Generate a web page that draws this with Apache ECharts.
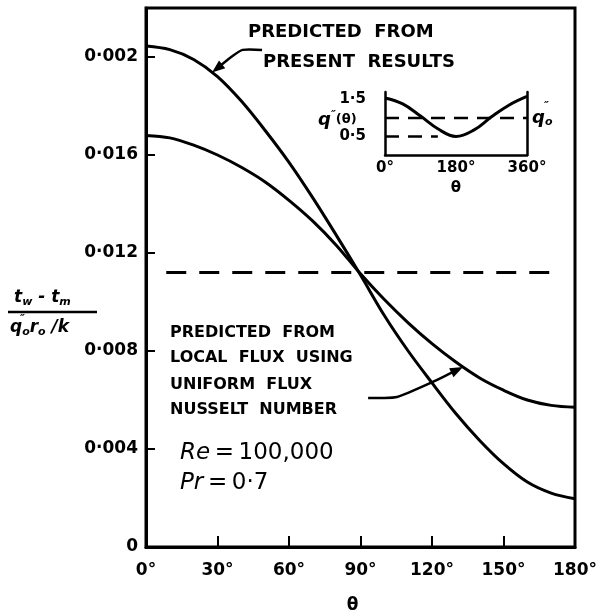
<!DOCTYPE html>
<html>
<head>
<meta charset="utf-8">
<script src="https://cdn.jsdelivr.net/npm/echarts@6/dist/echarts.min.js"></script>
<style>
  html, body { margin: 0; padding: 0; background: #fff; }
  #main { width: 608px; height: 610px; }
</style>
</head>
<body>
<div id="main"></div>
<script>
// main chart data (theta in degrees)
const theta = [0, 10, 20, 30, 40, 50, 60, 70, 80, 90, 100, 110, 120, 130, 140, 150, 160, 170, 180]
const presentResults = [0.02045, 0.0203, 0.0199, 0.0192, 0.0182, 0.0170, 0.0157, 0.01425, 0.0127, 0.0111,
  0.00945, 0.0080, 0.0067, 0.00545, 0.00435, 0.0034, 0.00265, 0.0022, 0.00197]
const localFlux = [0.0168, 0.0167, 0.0164, 0.0160, 0.0155, 0.0149, 0.01415, 0.0133, 0.0123, 0.01115,
  0.0101, 0.00915, 0.0083, 0.00755, 0.0069, 0.0064, 0.0060, 0.00578, 0.0057]
const uniformLevel = 0.0112
const uniformSpan = [8.5, 172.6]

const xTickLabels = ['0°', '30°', '60°', '90°', '120°', '150°', '180°']
const yTickLabels = ['0', '0·004', '0·008', '0·012', '0·016', '0·002']

// inset: q''(theta)
const insetTheta = [0, 45, 90, 135, 180, 225, 270, 315, 360]
const insetFlux = [1.54, 1.38, 1.05, 0.70, 0.50, 0.67, 1.03, 1.35, 1.58]
const insetMean = 1.0
const insetHalf = 0.5
const insetHalfSpan = [0, 134]
const insetXLabels = ['0°', '180°', '360°']

// annotation arrows, in data units
const arrowPresent = [[48.7, 0.02029], [40.5, 0.02029], [35.5, 0.01998], [27.7, 0.01937]]
const arrowLocal = [[93.2, 0.00608], [99, 0.00608], [105.3, 0.00612], [119.2, 0.00669], [133, 0.00735]]

const FONT = 'DejaVu Sans'
const pair = (xs, ys) => xs.map((x, i) => [x, ys[i]])

const chart = echarts.init(document.getElementById('main'))

const option = {
  backgroundColor: '#fff',
  animation: false,
  grid: [
    { left: 146, right: 33, top: 8, bottom: 63, outerBoundsMode: 'none', show: true, borderColor: '#000', borderWidth: 3 },
    { left: 385, right: 81, top: 92, bottom: 455, outerBoundsMode: 'none' }
  ],
  xAxis: [
    {
      gridIndex: 0, type: 'value', min: 0, max: 180, interval: 30,
      axisLine: { show: true, lineStyle: { color: '#000', width: 3 } },
      axisTick: { show: true, inside: true, length: 11, lineStyle: { color: '#000', width: 2 } },
      splitLine: { show: false },
      axisLabel: {
        margin: 15, color: '#000', fontFamily: FONT, fontWeight: 'bold', fontSize: 17,
        formatter: (v) => xTickLabels[Math.round(v / 30)] || ''
      },
      name: 'θ', nameLocation: 'middle', nameGap: 50,
      nameTextStyle: { color: '#000', fontFamily: FONT, fontWeight: 'bold', fontSize: 17, padding: [0, 16, 0, 0] }
    },
    {
      gridIndex: 1, type: 'value', min: 0, max: 360, interval: 180,
      axisLine: { show: true, lineStyle: { color: '#000', width: 2.5 } },
      axisTick: { show: false },
      splitLine: { show: false },
      axisLabel: {
        margin: 6, color: '#000', fontFamily: FONT, fontWeight: 'bold', fontSize: 15,
        formatter: (v) => insetXLabels[Math.round(v / 180)] || ''
      },
      name: 'θ', nameLocation: 'middle', nameGap: 26,
      nameTextStyle: { color: '#000', fontFamily: FONT, fontWeight: 'bold', fontSize: 15 }
    }
  ],
  yAxis: [
    {
      gridIndex: 0, type: 'value', min: 0, max: 0.022, interval: 0.004,
      axisLine: { show: true, lineStyle: { color: '#000', width: 3 } },
      axisTick: { show: true, inside: true, length: 9, lineStyle: { color: '#000', width: 2 } },
      splitLine: { show: false },
      axisLabel: {
        margin: 8, color: '#000', fontFamily: FONT, fontWeight: 'bold', fontSize: 17,
        formatter: (v) => {
          const i = Math.round(v / 0.004)
          return Math.abs(v - i * 0.004) < 1e-9 ? (yTickLabels[i] || '') : ''
        }
      }
    },
    {
      gridIndex: 1, type: 'value', min: 0, max: 1.7, interval: 0.5,
      axisLine: { show: true, lineStyle: { color: '#000', width: 2.5 } },
      axisTick: { show: false },
      splitLine: { show: false },
      axisLabel: {
        margin: 19, color: '#000', fontFamily: FONT, fontWeight: 'bold', fontSize: 15,
        formatter: (v) => Math.abs(v - 1.5) < 1e-6 ? '1·5' : Math.abs(v - 0.5) < 1e-6 ? '0·5' : ''
      }
    },
    {
      gridIndex: 1, type: 'value', min: 0, max: 1.7, position: 'right',
      axisLine: { show: true, lineStyle: { color: '#000', width: 2.5 } },
      axisTick: { show: false }, axisLabel: { show: false }, splitLine: { show: false }
    }
  ],
  series: [
    {
      name: 'Predicted from present results', type: 'line', xAxisIndex: 0, yAxisIndex: 0,
      data: pair(theta, presentResults), smooth: 0.35, showSymbol: false,
      lineStyle: { color: '#000', width: 3 }
    },
    {
      name: 'Predicted from local flux', type: 'line', xAxisIndex: 0, yAxisIndex: 0,
      data: pair(theta, localFlux), smooth: 0.35, showSymbol: false,
      lineStyle: { color: '#000', width: 3 }
    },
    {
      name: 'Uniform', type: 'line', xAxisIndex: 0, yAxisIndex: 0,
      data: uniformSpan.map((x) => [x, uniformLevel]), showSymbol: false,
      lineStyle: { color: '#000', width: 3, type: [20, 13] }
    },
    {
      name: 'q(theta)', type: 'line', xAxisIndex: 1, yAxisIndex: 1,
      data: pair(insetTheta, insetFlux), smooth: 0.4, showSymbol: false,
      lineStyle: { color: '#000', width: 3 }
    },
    {
      name: 'q0', type: 'line', xAxisIndex: 1, yAxisIndex: 1,
      data: [[0, insetMean], [360, insetMean]], showSymbol: false,
      lineStyle: { color: '#000', width: 2.5, type: [14, 9] }
    },
    {
      name: 'half', type: 'line', xAxisIndex: 1, yAxisIndex: 1,
      data: insetHalfSpan.map((x) => [x, insetHalf]), showSymbol: false,
      lineStyle: { color: '#000', width: 2.5, type: [14, 9] }
    }
  ]
}

chart.setOption(option)

// arrow built from data-unit points
function arrow (pts) {
  const px = pts.map((p) => chart.convertToPixel({ gridIndex: 0 }, p))
  const [x1, y1] = px[px.length - 2]
  const [x2, y2] = px[px.length - 1]
  const len = Math.hypot(x2 - x1, y2 - y1)
  const ux = (x2 - x1) / len
  const uy = (y2 - y1) / len
  const head = 13
  const w = 5
  const bx = x2 - ux * head
  const by = y2 - uy * head
  const shaft = px.slice(0, -1).concat([[bx + ux * 2, by + uy * 2]])
  return [
    { type: 'polyline', shape: { points: shaft, smooth: 0.2 }, style: { stroke: '#000', lineWidth: 2.5, fill: null } },
    { type: 'polygon', shape: { points: [[x2, y2], [bx - uy * w, by + ux * w], [bx + uy * w, by - ux * w]] }, style: { fill: '#000' } }
  ]
}

const txt = (x, y, text, size, extra) => ({
  type: 'text', x, y,
  style: Object.assign({
    text, fill: '#000', fontFamily: FONT, fontWeight: 'bold', fontSize: size,
    textAlign: 'left', textVerticalAlign: 'middle'
  }, extra || {})
})

const it = { fontFamily: FONT, fontWeight: 'bold', fontStyle: 'italic', fill: '#000' }
const big = {
  i: { fontFamily: FONT, fontStyle: 'italic', fontSize: 23, fill: '#000' },
  n: { fontFamily: FONT, fontSize: 23, fill: '#000' }
}

chart.setOption({
  graphic: [
    ...arrow(arrowPresent),
    ...arrow(arrowLocal),
    txt(248, 32, 'PREDICTED  FROM', 18),
    txt(263, 62, 'PRESENT  RESULTS', 18),
    txt(170, 333, 'PREDICTED  FROM', 16),
    txt(170, 358, 'LOCAL  FLUX  USING', 16),
    txt(170, 385, 'UNIFORM  FLUX', 16),
    txt(170, 410, 'NUSSELT  NUMBER', 16),
    { type: 'text', x: 180, y: 453, style: { text: '{i|Re}{n|\u2009=\u2009100,000}', textVerticalAlign: 'middle', rich: big } },
    { type: 'text', x: 180, y: 483, style: { text: '{i|Pr}{n|\u2009=\u20090·7}', textVerticalAlign: 'middle', rich: big } },
    // y axis name: (t_w - t_m) / (q''_o r_o / k)
    {
      type: 'text', x: 14, y: 298,
      style: {
        text: '{a|t}{s|w}{a| - t}{s|m}', textVerticalAlign: 'middle',
        rich: { a: Object.assign({ fontSize: 17 }, it), s: Object.assign({ fontSize: 11, padding: [9, 0, 0, 0] }, it) }
      }
    },
    { type: 'line', shape: { x1: 8, y1: 312, x2: 97, y2: 312 }, style: { stroke: '#000', lineWidth: 2.5 } },
    {
      type: 'text', x: 10, y: 328,
      style: {
        text: '{a|q}{s|o}{a|r}{s|o}{a| /k}', textVerticalAlign: 'middle',
        rich: { a: Object.assign({ fontSize: 17 }, it), s: Object.assign({ fontSize: 11, padding: [9, 0, 0, 0] }, it) }
      }
    },
    txt(20, 319, '″', 11, { fontStyle: 'italic' }),
    // inset labels
    {
      type: 'text', x: 318, y: 120,
      style: {
        text: '{a|q}{s|″}{b|(θ)}', textVerticalAlign: 'middle',
        rich: { a: Object.assign({ fontSize: 18 }, it), s: Object.assign({ fontSize: 11, padding: [0, 0, 10, 0] }, it), b: { fontFamily: FONT, fontWeight: 'bold', fontSize: 13, fill: '#000' } }
      }
    },
    {
      type: 'text', x: 532, y: 118,
      style: {
        text: '{a|q}{s|o}', textVerticalAlign: 'middle',
        rich: { a: Object.assign({ fontSize: 18 }, it), s: Object.assign({ fontSize: 11, padding: [9, 0, 0, 0] }, it) }
      }
    },
    txt(544, 106, '″', 11, { fontStyle: 'italic' })
  ]
})
</script>
</body>
</html>
